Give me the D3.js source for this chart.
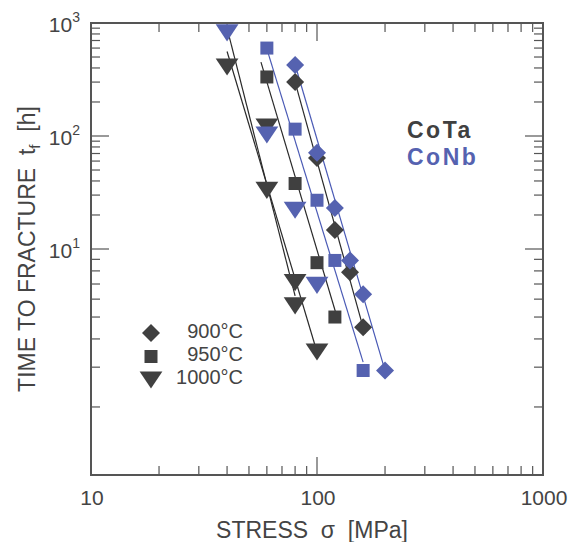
<!DOCTYPE html>
<html>
<head>
<meta charset="utf-8">
<script src="https://cdn.jsdelivr.net/npm/d3@7"></script>
<style>
  body { margin: 0; background: #fff; }
  svg { display: block; font-family: Arial, "Liberation Sans", sans-serif; }
</style>
</head>
<body>
<svg id="chart" width="575" height="542"></svg>
<script>
// creep rupture data: [stress MPa, time h]
const cotaDiamonds = [[80, 300], [100, 64], [120, 14.7], [140, 7.9], [160, 4.5]];
const conbDiamonds = [[80, 425], [100, 71], [120, 23], [140, 8.9], [160, 6.3], [200, 2.9]];
const cotaSquares  = [[60, 333], [80, 38], [100, 8.7], [120, 5.0]];
const conbSquares  = [[60, 600], [80, 115], [100, 27], [120, 8.9], [160, 2.9]];
const cotaTris     = [[40, 408], [60, 120], [60, 33], [80, 7.1], [80, 5.6], [100, 3.5]];
const conbTris     = [[40, 817], [60, 102], [80, 22], [100, 6.9]];

// fitted lines, as end points
const fitLines = [
  { alloy: "CoTa", pts: [[40, 900], [80, 6.2]] },
  { alloy: "CoTa", pts: [[40, 560], [100, 3.5]] },
  { alloy: "CoTa", pts: [[56.5, 450], [123, 4.95]] },
  { alloy: "CoNb", pts: [[60.6, 553], [160, 3.16]] },
  { alloy: "CoTa", pts: [[80, 300], [163, 4.2]] },
  { alloy: "CoNb", pts: [[80.8, 400], [198, 3.0]] }
];

const xTickLabels = [10, 100, 1000];
const yTickLabels = [1000, 100, 10];
const legendTemps = ["900°C", "950°C", "1000°C"];
const alloyNames = ["CoTa", "CoNb"];

const dark = "#404040", blue = "#5562b0", axisCol = "#555";
const colors = { CoTa: dark, CoNb: blue };

const svg = d3.select("#chart");
const L = 91, R = 543, T = 23, B = 475;

const x = d3.scaleLog().domain([10, 1000]).range([L, R]);
// the printed axis: the lowest decade is drawn twice as tall as the others
const y = d3.scaleLog().domain([1, 10, 1000]).range([B, 249, T]);

// minor / major tick values
const xTicks = [], yTicks = [];
for (let e = 1; e <= 2; e++) for (let m = 1; m <= 9; m++) xTicks.push(m * 10 ** e);
xTicks.push(1000);
for (let e = 0; e <= 2; e++) for (let m = 1; m <= 9; m++) yTicks.push(m * 10 ** e);
yTicks.push(1000);
const isMajor = v => Math.abs(Math.log10(v) - Math.round(Math.log10(v))) < 1e-9;

const ax = svg.append("g").attr("stroke", axisCol).attr("fill", "none");
// ticks, inward on all four sides
xTicks.forEach(v => {
  const len = isMajor(v) ? 18 : 9;
  ax.append("line").attr("x1", x(v)).attr("x2", x(v)).attr("y1", B).attr("y2", B - len).attr("stroke-width", 1.2);
  ax.append("line").attr("x1", x(v)).attr("x2", x(v)).attr("y1", T).attr("y2", T + len).attr("stroke-width", 1.2);
});
yTicks.forEach(v => {
  const len = isMajor(v) ? 18 : 9;
  ax.append("line").attr("y1", y(v)).attr("y2", y(v)).attr("x1", L).attr("x2", L + len).attr("stroke-width", 1.2);
  ax.append("line").attr("y1", y(v)).attr("y2", y(v)).attr("x1", R).attr("x2", R - len).attr("stroke-width", 1.2);
});
ax.append("rect").attr("x", L).attr("y", T).attr("width", R - L).attr("height", B - T).attr("stroke-width", 2);

// tick labels
svg.append("g").selectAll("text").data(xTickLabels).join("text")
  .attr("x", d => x(d) + 1).attr("y", 505).attr("text-anchor", "middle")
  .attr("font-size", 21).attr("fill", "#444").text(d => d);

const yl = svg.append("g").selectAll("text").data(yTickLabels).join("text")
  .attr("x", 80).attr("y", d => y(d) + 9).attr("text-anchor", "end")
  .attr("font-size", 21).attr("fill", "#444");
yl.append("tspan").text("10");
yl.append("tspan").attr("dy", -10).attr("font-size", 14).text(d => Math.round(Math.log10(d)));

// axis titles
svg.append("text").attr("x", 312).attr("y", 538).attr("text-anchor", "middle")
  .attr("font-size", 23).attr("fill", "#444")
  .html('STRESS&#160;&#160;σ&#160;&#160;[MPa]');
const yt = svg.append("text").attr("transform", "translate(35,249) rotate(-90)")
  .attr("text-anchor", "middle").attr("font-size", 23).attr("fill", "#444");
yt.append("tspan").html("TIME TO FRACTURE&#160;&#160;t");
yt.append("tspan").attr("dy", 5).attr("font-size", 15).text("f");
yt.append("tspan").attr("dy", -5).html("&#160;&#160;[h]");

// fit lines
const line = d3.line().x(d => x(d[0])).y(d => y(d[1]));
svg.append("g").attr("fill", "none").selectAll("path").data(fitLines).join("path")
  .attr("d", d => line(d.pts)).attr("stroke", d => d.alloy === "CoTa" ? "#2a2a2a" : "#4a5ab5")
  .attr("stroke-width", 1.2);

// marker shapes
const shapes = {
  diamond: s => `M0,${-s}L${s},0L0,${s}L${-s},0Z`,
  square: s => `M${-s},${-s}H${s}V${s}H${-s}Z`,
  tri: s => `M${-s * 1.2},${-s * 0.9}H${s * 1.2}L0,${s * 0.9}Z`
};
const sizes = { diamond: 9, square: 6.5, tri: 9.5 };

const series = [
  { data: cotaTris, shape: "tri", alloy: "CoTa" },
  { data: conbTris, shape: "tri", alloy: "CoNb" },
  { data: cotaSquares, shape: "square", alloy: "CoTa" },
  { data: conbSquares, shape: "square", alloy: "CoNb" },
  { data: cotaDiamonds, shape: "diamond", alloy: "CoTa" },
  { data: conbDiamonds, shape: "diamond", alloy: "CoNb" }
];
series.forEach(s => {
  svg.append("g").selectAll("path").data(s.data).join("path")
    .attr("transform", d => `translate(${x(d[0])},${y(d[1])})`)
    .attr("d", shapes[s.shape](sizes[s.shape]))
    .attr("fill", colors[s.alloy]);
});

// legend
const lg = svg.append("g");
["diamond", "square", "tri"].forEach((sh, i) => {
  lg.append("path").attr("transform", `translate(151,${333 + i * 23.5})`)
    .attr("d", shapes[sh](sizes[sh])).attr("fill", dark);
  lg.append("text").attr("x", 243).attr("y", 338 + i * 23).attr("text-anchor", "end")
    .attr("font-size", 20).attr("fill", "#444").text(legendTemps[i]);
});
alloyNames.forEach((n, i) => {
  svg.append("text").attr("x", 407).attr("y", 138 + i * 27)
    .attr("font-size", 23).attr("font-weight", "bold").attr("letter-spacing", 2.5)
    .attr("fill", colors[n]).text(n);
});
</script>
</body>
</html>
